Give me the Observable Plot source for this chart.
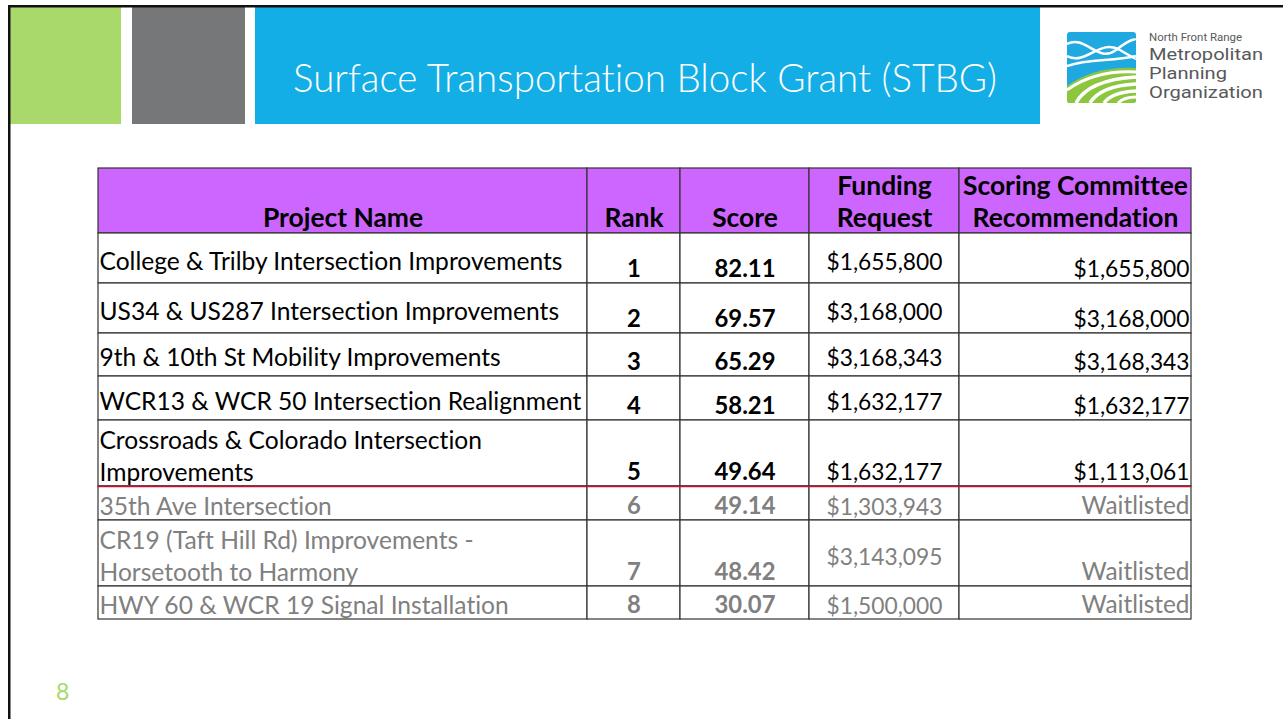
<!DOCTYPE html>
<html><head><meta charset="utf-8">
<script src="https://cdn.jsdelivr.net/npm/d3@7"></script>
<script src="https://cdn.jsdelivr.net/npm/@observablehq/plot@0.6"></script>
<style>
html,body{margin:0;padding:0;background:#fff;}
#slide{position:relative;width:1283px;height:719px;overflow:hidden;background:#fff;}
#deco{position:absolute;left:0;top:0;}
#table{position:absolute;left:97px;top:167px;}
svg text{font-variant-ligatures:none;font-feature-settings:"liga" 0, "clig" 0;}
</style></head><body><div id="slide">
<svg id="deco" width="1283" height="719"></svg>
<div id="table"></div>
</div>
<script>
// ---------- data ----------
const slideTitle = "Surface Transportation Block Grant (STBG)";
const headers = ["Project Name", "Rank", "Score", "Funding\nRequest", "Scoring Committee\nRecommendation"];
const projects = [
  "College & Trilby Intersection Improvements",
  "US34 & US287 Intersection Improvements",
  "9th & 10th St Mobility Improvements",
  "WCR13 & WCR 50 Intersection Realignment",
  "Crossroads & Colorado Intersection\nImprovements",
  "35th Ave Intersection",
  "CR19 (Taft Hill Rd) Improvements -\nHorsetooth to Harmony",
  "HWY 60 & WCR 19 Signal Installation"
];
const ranks = [1, 2, 3, 4, 5, 6, 7, 8];
const scores = [82.11, 69.57, 65.29, 58.21, 49.64, 49.14, 48.42, 30.07];
const fundingRequest = [1655800, 3168000, 3168343, 1632177, 1632177, 1303943, 3143095, 1500000];
const recommendation = [1655800, 3168000, 3168343, 1632177, 1113061, null, null, null];
const waitlistLabel = "Waitlisted";
const fundedCount = 5;
const pageNumber = "8";
const logoLines = ["North Front Range", "Metropolitan", "Planning", "Organization"];

// ---------- layout / style ----------
const FONT = "Lato, 'Open Sans', sans-serif";
const PURPLE = "#CC66FF", GRID = "#333", GRAYTXT = "#808080", RED = "#C8102E";
const colW = [489, 93, 129, 150, 232];
const rowH = [65, 50, 50, 43, 44, 66, 34, 66, 33];
const fundingVAlign = ["middle","middle","middle","middle","bottom","middle","middle","middle"];
const bottomPad = 7;

const ctx = document.createElement("canvas").getContext("2d");
function fit(text, weight, base, target) {
  ctx.font = `${weight} ${base}px ${FONT}`;
  return base * target / ctx.measureText(text).width;
}
const sizes = {
  body: (fit("College & Trilby Intersection Improvements", 400, 24, 477) + fit("WCR13 & WCR 50 Intersection Realignment", 400, 24, 470)) / 2,
  wait: fit(waitlistLabel, 400, 24, 108),
  bold: fit("Scoring Committee", 700, 24, 224),
  num: fit("$1,655,800", 400, 24, 116),
  boldnum: fit("82.11", 700, 24, 61)
};
const titleSize = fit(slideTitle, 300, 36, 706);
const lineH = 32;

// ---------- decoration ----------
const deco = d3.select("#deco");
deco.append("rect").attr("x",10).attr("y",7).attr("width",111).attr("height",117).attr("fill","#A9D86B");
deco.append("rect").attr("x",132).attr("y",7).attr("width",113).attr("height",117).attr("fill","#767779");
deco.append("rect").attr("x",255).attr("y",7).attr("width",785).attr("height",117).attr("fill","#12AEE5");
deco.append("rect").attr("x",8).attr("y",5).attr("width",1275).attr("height",2.5).attr("fill","#111");
deco.append("rect").attr("x",8).attr("y",5).attr("width",2.5).attr("height",714).attr("fill","#111");
deco.append("text").attr("x",645).attr("y",92).attr("text-anchor","middle")
  .attr("fill","#fff").attr("font-family",FONT).attr("font-weight",300).attr("font-size",titleSize).text(slideTitle);
// logo
const lg = deco.append("g");
lg.append("clipPath").attr("id","lclip").append("rect").attr("x",1067).attr("y",32).attr("width",69).attr("height",71).attr("rx",3);
const lgc = lg.append("g").attr("clip-path","url(#lclip)");
lgc.append("rect").attr("x",1067).attr("y",32).attr("width",69).attr("height",71).attr("fill","#1FA9E0");
lgc.append("path").attr("d","M1067,103 L1067,86 Q1095,66 1136,68 L1136,103 Z").attr("fill","#8CC63F");
[["M1067,90 Q1095,70 1136,72",3],["M1076,103 Q1088,80 1136,77",3.5],["M1090,103 Q1100,86 1136,84",3.5],["M1104,103 Q1112,92 1136,91",3.5],["M1118,103 Q1124,97 1136,97",3]]
  .forEach(([d,w]) => lgc.append("path").attr("d",d).attr("fill","none").attr("stroke","#fff").attr("stroke-width",w));
["M1067,44 C1085,34 1098,64 1116,50 S1136,40 1136,40","M1067,56 C1086,66 1100,38 1120,50 S1136,58 1136,58","M1067,66 C1090,58 1112,62 1136,56"]
  .forEach(d => lgc.append("path").attr("d",d).attr("fill","none").attr("stroke","#fff").attr("stroke-width",2.5));
const lt = [[41,10,93],[60,17,114],[79,17,78],[98,17,114]];
logoLines.forEach((s,i) => deco.append("text").attr("x",1149).attr("y",lt[i][0]).attr("font-size",lt[i][1])
  .attr("font-family","Roboto, sans-serif").attr("fill","#58595B").attr("textLength", lt[i][2]).attr("lengthAdjust","spacingAndGlyphs").text(s));
deco.append("text").attr("x",56).attr("y",700).attr("font-size",23).attr("font-family",FONT).attr("fill","#A9D86B").text(pageNumber);

// ---------- table via Plot ----------
const cx = [0, ...d3.cumsum(colW)];
const cy = [0, ...d3.cumsum(rowH)];
const W = cx[cx.length-1], H = cy[cy.length-1];
const fmtMoney = d3.format("$,");
const fmtScore = d3.format(".2f");

const cells = [];
for (let r = 0; r < rowH.length; r++) for (let c = 0; c < colW.length; c++)
  cells.push({r, c, x1: cx[c], x2: cx[c+1], y1: cy[r], y2: cy[r+1]});

const texts = [];
function add(r, c, text, size, valign, halign) {
  const x = halign === "start" ? cx[c] + 1 : halign === "end" ? cx[c+1] - 2 : (cx[c] + cx[c+1]) / 2;
  const y = valign === "bottom" ? cy[r+1] - bottomPad : (cy[r] + cy[r+1]) / 2 + 1;
  const gray = r > fundedCount;
  texts.push({text, size, valign, halign, x, y, fill: gray ? GRAYTXT : "#000"});
}
headers.forEach((h, c) => add(0, c, h, "bold", "bottom", "middle"));
projects.forEach((p, i) => {
  const r = i + 1;
  add(r, 0, p, "body", "middle", "start");
  add(r, 1, String(ranks[i]), "boldnum", "bottom", "middle");
  add(r, 2, fmtScore(scores[i]), "boldnum", "bottom", "middle");
  add(r, 3, fmtMoney(fundingRequest[i]), "num", fundingVAlign[i], "middle");
  if (recommendation[i] == null) add(r, 4, waitlistLabel, "wait", "bottom", "end");
  else add(r, 4, fmtMoney(recommendation[i]), "num", "bottom", "end");
});

const textMarks = [];
for (const sz of Object.keys(sizes)) for (const va of ["middle","bottom"]) for (const ha of ["start","middle","end"]) {
  const sub = texts.filter(t => t.size === sz && t.valign === va && t.halign === ha);
  if (!sub.length) continue;
  const fs = sizes[sz];
  textMarks.push(Plot.text(sub, {x: "x", y: "y", text: "text", fill: "fill", textAnchor: ha, lineAnchor: va,
    fontWeight: sz.startsWith("bold") ? 700 : 400, fontSize: fs, lineHeight: lineH / fs}));
}

const chart = Plot.plot({
  width: W + 2, height: H + 2,
  marginLeft: 1, marginRight: 1, marginTop: 1, marginBottom: 1,
  x: {type: "linear", domain: [0, W], range: [1, W + 1], axis: null},
  y: {type: "linear", domain: [0, H], range: [1, H + 1], axis: null},
  color: {type: "identity"},
  style: {fontFamily: FONT, background: "transparent", overflow: "visible"},
  marks: [
    Plot.rect(cells, {x1: "x1", x2: "x2", y1: "y1", y2: "y2", fill: d => d.r === 0 ? PURPLE : "#fff", stroke: GRID, strokeWidth: 1.2}),
    Plot.ruleY([cy[fundedCount + 1]], {x1: 0, x2: W, stroke: RED, strokeWidth: 1.6}),
    ...textMarks
  ]
});
document.getElementById("table").appendChild(chart);
</script>
</body></html>
